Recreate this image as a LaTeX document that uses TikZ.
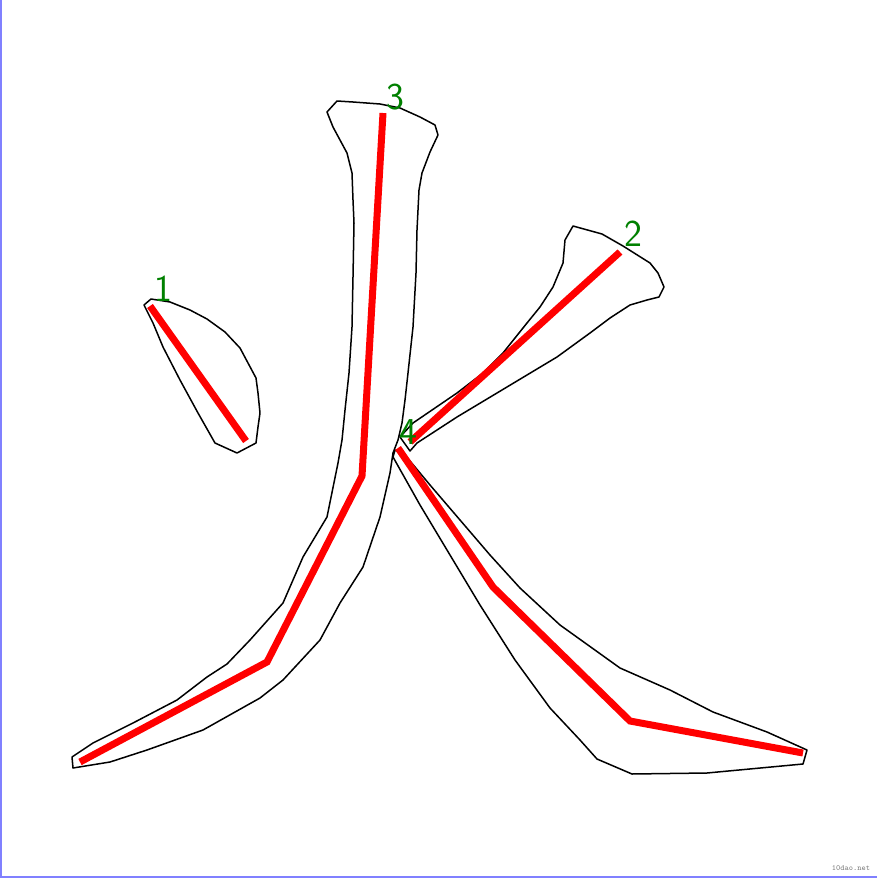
\documentclass[tikz,border=0pt]{standalone}
\usepackage{tikz}

\definecolor{numgreen}{RGB}{0,128,0}
\definecolor{edgeblue}{RGB}{128,128,255}

\begin{document}
\begin{tikzpicture}[x=0.5pt,y=-0.5pt,
  outline/.style={line width=0.75pt, line join=round, black},
  track/.style={line width=3.5pt, red},
  num/.style={text=numgreen, font=\fontsize{19}{19}\selectfont\sffamily, inner sep=0pt}]
\useasboundingbox (0,0) rectangle (877,878);
\draw[line width=1pt, edgeblue] (0.5,0) -- (0.5,876.5) -- (877,876.5);
\draw[outline] (144,305) -- (151,299) -- (170,302) -- (190,310) -- (207,319) -- (225,332) -- (240,348) -- (248,363) -- (256,378) -- (258,393) -- (260,413) -- (258,427) -- (256,443) -- (237,453) -- (215,443) -- (198,413) -- (180,380) -- (163,347) -- (153,323) -- cycle;
\draw[outline] (327,112) -- (337,101) -- (353,102) -- (380,104) -- (400,108) -- (420,117) -- (435,125) -- (438,135) -- (430,152) -- (422,173) -- (419,190) -- (417,230) -- (416,273) -- (413,327) -- (408,373) -- (405,400) -- (402,423) -- (398,440) -- (393,453) -- (390,473) -- (380,517) -- (363,567) -- (340,603) -- (320,640) -- (283,680) -- (260,698) -- (203,730) -- (147,750) -- (110,762) -- (73,768) -- (72,757) -- (93,743) -- (133,723) -- (177,700) -- (207,677) -- (227,664) -- (250,640) -- (283,603) -- (303,557) -- (327,517) -- (338,463) -- (342,440) -- (345,410) -- (349,373) -- (352,327) -- (353,277) -- (354,223) -- (353,200) -- (352,173) -- (347,153) -- (340,140) -- (333,127) -- cycle;
\draw[outline] (400,437) -- (413,423) -- (457,393) -- (483,373) -- (503,353) -- (527,323) -- (540,307) -- (553,287) -- (563,263) -- (565,240) -- (573,226) -- (602,234) -- (623,246) -- (650,263) -- (658,273) -- (664,287) -- (659,297) -- (647,300) -- (630,305) -- (610,318) -- (590,333) -- (557,357) -- (507,387) -- (457,417) -- (417,443) -- (410,451) -- cycle;
\draw[outline] (395,450) -- (405,455) -- (430,485) -- (460,520) -- (490,555) -- (520,588) -- (560,625) -- (620,668) -- (670,690) -- (713,712) -- (767,732) -- (807,750) -- (803,764) -- (707,773) -- (632,774) -- (597,759) -- (580,740) -- (550,708) -- (515,660) -- (480,605) -- (450,555) -- (420,505) -- (393,457) -- cycle;
\draw[track] (150,306) -- (246,441);
\draw[track] (620,252) -- (410,442);
\draw[track] (383,113) -- (362,476) -- (267,662) -- (80,762);
\draw[track] (398,448) -- (493,587) -- (630,721) -- (803,753);
\node[num] (n1) at (163,289) {1};
\node[num] (n2) at (633,234) {2};
\node[num] (n3) at (395,97) {3};
\node[num] (n4) at (408,432) {4};
\node[text=gray, font=\fontsize{4}{4}\selectfont\ttfamily, inner sep=0pt] (mark) at (851,868) {10dao.net};
\end{tikzpicture}
\end{document}
